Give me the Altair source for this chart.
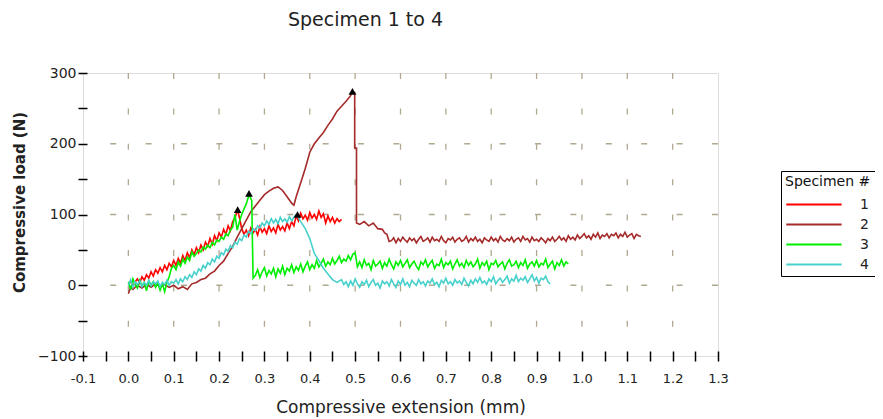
import altair as alt
import pandas as pd

# ---------------- data ----------------
specimens = ["1", "2", "3", "4"]
colors = ["#ff0000", "#a52a2a", "#00ee00", "#48d1cc"]

# noisy stretches are read every 0.005 mm ("run" = start + values), sharp features as points
run_step = 0.005

# Specimen 1 (red)
s1_run1_start = 0.0
s1_run1_y = [1, 6, -2, 5, 9, 3, 12, 7, 15, 10,
             19, 13, 22, 17, 25, 19, 28, 22, 31, 26,
             35, 28, 38, 31, 42, 35, 46, 39, 50, 43,
             53, 46, 57, 50, 61, 55, 66, 58, 70, 63,
             74, 68, 79, 72, 84, 77, 90, 95]
s1_pts_x = [0.241]
s1_pts_y = [107]
s1_run2_start = 0.25
s1_run2_y = [80, 72, 78, 70, 81, 74, 79, 71, 83, 75,
             80, 73, 84, 76, 81, 74, 86, 78, 83, 77,
             88, 80, 90, 84, 98, 91, 102, 94, 99, 92,
             103, 95, 100, 93, 105, 96, 101, 88, 98, 90,
             96, 88, 94, 90, 93]

# Specimen 2 (brown)
s2_pts_x = [0.00, 0.005, 0.01, 0.02, 0.03, 0.04, 0.05, 0.06, 0.07, 0.08,
            0.09, 0.10, 0.11, 0.12, 0.13, 0.14, 0.15, 0.16, 0.17, 0.18,
            0.19, 0.20, 0.21, 0.22, 0.23, 0.24, 0.25, 0.26, 0.27, 0.28,
            0.29, 0.30, 0.31, 0.32, 0.33, 0.34, 0.35, 0.36, 0.365, 0.37,
            0.38, 0.39, 0.40, 0.41, 0.42, 0.43, 0.44, 0.45, 0.46, 0.47,
            0.48, 0.49, 0.494, 0.499, 0.499, 0.503, 0.503, 0.51, 0.52, 0.53,
            0.54, 0.55, 0.56, 0.565, 0.57, 0.575]
s2_pts_y = [-12, -3, -6, 0, -4, 1, -3, 2, -2, 1,
            -3, 0, -5, -2, -6, 2, 4, 8, 10, 16,
            20, 28, 34, 45, 55, 68, 80, 92, 104, 112,
            120, 128, 133, 137, 139, 134, 125, 116, 113, 125,
            145, 165, 188, 200, 208, 216, 226, 235, 246, 253,
            260, 268, 274, 272, 194, 194, 88, 86, 90, 84,
            88, 80, 79, 74, 72, 62]
s2_tail_start = 0.58
s2_tail_y = [63, 67, 60, 66, 62, 68, 64, 61, 67, 63,
             66, 60, 65, 69, 62, 64, 67, 61, 68, 63,
             65, 62, 69, 63, 60, 66, 64, 68, 61, 65,
             67, 62, 64, 69, 61, 66, 63, 68, 62, 65,
             60, 67, 64, 62, 68, 63, 66, 61, 69, 64,
             62, 66, 63, 68, 61, 65, 67, 62, 69, 64,
             66, 61, 68, 63, 65, 62, 67, 64, 60, 66,
             63, 68, 62, 65, 69, 64, 67, 62, 70, 65,
             68, 64, 71, 66, 69, 73, 67, 70, 65, 72,
             68, 74, 66, 71, 69, 73, 67, 72, 70, 74,
             67, 72, 69, 75, 68, 71, 73, 66, 72, 70,
             69]

# Specimen 3 (green)
s3_run1_start = 0.0
s3_run1_y = [5, -6, 9, 1, -4, 7, -1, 4, -8, 6,
             0, 5, -3, 3, -7, 2, -9, 4, 12, 24,
             28, 22, 33, 27, 37, 31, 40, 35, 47, 41,
             45, 50, 47, 54, 51, 57, 53, 61, 57, 64,
             62, 68, 65, 73, 70, 78, 82]
s3_pts_x = [0.235, 0.24, 0.245, 0.25, 0.255, 0.26, 0.266, 0.272, 0.275]
s3_pts_y = [100, 78, 90, 100, 108, 115, 128, 120, 10]
s3_run2_start = 0.28
s3_run2_y = [14, 22, 11, 19, 25, 13, 21, 16, 24, 12,
             23, 17, 27, 15, 24, 20, 29, 18, 26, 21,
             30, 19, 27, 33, 22, 29, 24, 35, 26, 31,
             37, 27, 33, 29, 38, 30, 35, 41, 32, 37,
             34, 42, 36, 44, 46, 26]
s3_tail_start = 0.51
s3_tail_y = [33, 25, 36, 28, 31, 22, 35, 27, 30, 34,
             24, 32, 27, 37, 29, 23, 33, 28, 35, 26,
             31, 36, 25, 30, 34, 27, 22, 33, 29, 36,
             26, 31, 35, 24, 30, 28, 37, 25, 32, 29,
             34, 23, 30, 36, 27, 31, 25, 35, 28, 33,
             26, 30, 37, 24, 32, 28, 34, 22, 31, 29,
             35, 26, 30, 33, 23, 31, 36, 27, 29, 34,
             25, 32, 28, 36, 24, 30, 33, 27, 35, 26,
             31, 29, 37, 25, 30, 34, 23, 32, 28, 36,
             27, 33, 30]

# Specimen 4 (cyan)
s4_run1_start = 0.0
s4_run1_y = [0, 8, -3, 5, 1, 6, -2, 4, 0, 7,
             -1, 5, 2, 6, -2, 4, 1, 7, 0, 5,
             3, 8, 2, 9, 5, 12, 8, 15, 11, 19,
             15, 23, 20, 28, 24, 32, 29, 37, 33, 41,
             38, 46, 43, 51, 48, 56, 53, 61, 58, 66,
             63, 71, 68, 76, 73, 80, 77, 84, 81, 88,
             84, 91, 86, 94, 88, 93, 87, 96, 90, 94,
             89, 97, 91, 96, 100]
s4_pts_x = [0.38, 0.39, 0.40, 0.41, 0.42, 0.43, 0.44, 0.45, 0.46]
s4_pts_y = [90, 80, 66, 45, 35, 24, 16, 8, 4]
s4_tail_start = 0.47
s4_tail_y = [8, 1, 5, -2, 6, 0, 9, 2, -3, 5,
             1, 7, -2, 4, 8, 0, 3, -4, 6, 2,
             5, -1, 8, 2, -3, 6, 1, 9, 0, 4,
             -2, 7, 3, 0, 8, 2, 5, -1, 6, 3,
             9, 1, 4, -2, 7, 3, 10, 2, 5, 0,
             8, 3, 6, 1, 10, 4, -1, 7, 2, 9,
             4, 11, 3, 6, 1, 9, 5, 12, 2, 7,
             10, 4, 8, 13, 3, 9, 6, 14, 5, 10,
             7, 12, 4, 9, 15, 6, 11, 3, 10, 8,
             13, 5, 2]

peak_x = [0.241, 0.266, 0.373, 0.494]
peak_y = [107, 130, 100, 274]

x_ticks = [-0.1, -0.05, 0.0, 0.05, 0.1, 0.15, 0.2, 0.25, 0.3, 0.35, 0.4, 0.45,
           0.5, 0.55, 0.6, 0.65, 0.7, 0.75, 0.8, 0.85, 0.9, 0.95, 1.0, 1.05,
           1.1, 1.15, 1.2, 1.25, 1.3]
y_ticks = [-100, -50, 0, 50, 100, 150, 200, 250, 300]
x_grid = [0.0, 0.1, 0.2, 0.3, 0.4, 0.5, 0.6, 0.7, 0.8, 0.9, 1.0, 1.1, 1.2]
y_grid = [0, 100, 200]

# ---------------- tables ----------------
pieces = {
    "1": [("run", s1_run1_start, s1_run1_y), ("pts", s1_pts_x, s1_pts_y), ("run", s1_run2_start, s1_run2_y)],
    "2": [("pts", s2_pts_x, s2_pts_y), ("run", s2_tail_start, s2_tail_y)],
    "3": [("run", s3_run1_start, s3_run1_y), ("pts", s3_pts_x, s3_pts_y),
          ("run", s3_run2_start, s3_run2_y), ("run", s3_tail_start, s3_tail_y)],
    "4": [("run", s4_run1_start, s4_run1_y), ("pts", s4_pts_x, s4_pts_y), ("run", s4_tail_start, s4_tail_y)],
}
rows = []
for name in specimens:
    i = 0
    for kind, a, b in pieces[name]:
        if kind == "pts":
            pairs = zip(a, b)
        else:
            pairs = ((round(a + k * run_step, 4), v) for k, v in enumerate(b))
        for xv, yv in pairs:
            rows.append({"specimen": name, "x": xv, "y": yv, "idx": i})
            i += 1
df = pd.DataFrame(rows)
peaks = pd.DataFrame({"x": peak_x, "y": peak_y})
gx = pd.DataFrame({"x": x_grid})
gy = pd.DataFrame({"y": y_grid})

FONT = "DejaVu Sans"
TXT = "#222222"
xscale = alt.Scale(domain=[-0.1, 1.3], nice=False, zero=False)
yscale = alt.Scale(domain=[-100, 300], nice=False, zero=False)

xaxis = alt.Axis(
    values=x_ticks, grid=False, domain=False, offset=-5, tickSize=10, tickWidth=1.5,
    tickColor="black", labelPadding=11, labelFlush=False, labelOverlap=False,
    labelExpr="abs(round(datum.value*20)) % 2 == 0 ? replace(format(datum.value, '.1f'), '\u2212', '-') : ''",
    labelFont=FONT, labelFontSize=13, labelColor=TXT,
    title="Compressive extension (mm)", titleFont=FONT, titleFontSize=17,
    titleFontWeight="normal", titleColor=TXT, titleBaseline="alphabetic", titleY=61,
)
yaxis = alt.Axis(
    values=y_ticks, grid=False, domain=False, offset=-4, tickSize=9, tickWidth=1.5,
    tickColor="black", labelPadding=2, labelFlush=False, labelOverlap=False,
    labelExpr="datum.value % 100 == 0 ? format(datum.value, 'd') : ''",
    labelFont=FONT, labelFontSize=14, labelColor=TXT,
    title="Compressive load (N)", titleFont=FONT, titleFontSize=15,
    titleFontWeight="bold", titleColor=TXT, titleX=-63, titleY=129,
    titleAngle=-90, titleBaseline="alphabetic",
)

x_enc = alt.X("x:Q", scale=xscale, axis=xaxis)
y_enc = alt.Y("y:Q", scale=yscale, axis=yaxis)

grid_v = alt.Chart(gx).mark_rule(color="#b0a890", strokeWidth=1.3, strokeDash=[6, 29.4]).encode(x=x_enc)
grid_h = alt.Chart(gy).mark_rule(color="#b0a890", strokeWidth=1.3, strokeDash=[6, 29.4]).encode(y=y_enc)

lines = alt.Chart(df).mark_line(strokeWidth=1.6).encode(
    x=x_enc,
    y=y_enc,
    color=alt.Color(
        "specimen:N",
        scale=alt.Scale(domain=specimens, range=colors),
        legend=alt.Legend(
            orient="none", legendX=698, legendY=98, title="Specimen #",
            symbolType="M-1,0L5,0", symbolSize=340, symbolStrokeWidth=2,
            labelOffset=54, strokeColor="black", fillColor="white", padding=4,
            titleFont=FONT, titleFontSize=14, titleFontWeight="normal", titleColor="#111111",
            labelFont=FONT, labelFontSize=14, labelColor=TXT,
            rowPadding=2, titlePadding=5, cornerRadius=0,
        ),
    ),
    order="idx:Q",
)

markers = alt.Chart(peaks).mark_point(shape="triangle-up", filled=True, color="black", size=60, opacity=1).encode(
    x=x_enc, y=y_enc
)

chart = alt.layer(grid_v, grid_h, lines, markers).properties(
    width=635, height=283,
    padding={"left": 75, "top": 65, "right": 157, "bottom": 63},
    autosize=alt.AutoSizeParams(type="none"),
    title=alt.TitleParams(
        "Specimen 1 to 4", font=FONT, fontSize=19, fontWeight="normal", color=TXT,
        anchor="middle", dx=-35, offset=36,
    ),
).configure_view(stroke="black", strokeWidth=2).configure(background="white")

chart.save("out.html", embed_options={"renderer": "svg", "actions": False})
